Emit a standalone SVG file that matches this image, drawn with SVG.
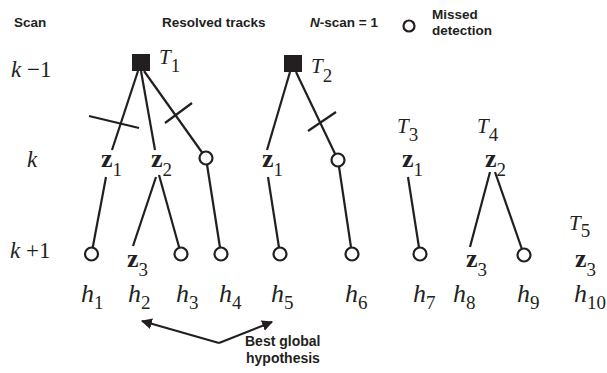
<svg xmlns="http://www.w3.org/2000/svg" width="607" height="373" viewBox="0 0 607 373">
<defs>
<style>
.hd{font-family:"Liberation Sans",Arial,sans-serif;font-weight:bold;font-size:13.5px;fill:#231f20}
.lb{font-family:"Liberation Sans",Arial,sans-serif;font-weight:bold;font-size:14px;fill:#231f20}
.rw{font-family:"Liberation Serif","Times New Roman",serif;font-size:23px;fill:#231f20}
.tl{font-family:"Liberation Serif","Times New Roman",serif;font-style:italic;font-size:21px;fill:#231f20}
.z{font-family:"Liberation Serif","Times New Roman",serif;font-weight:bold;font-size:26px;fill:#231f20}
.h{font-family:"Liberation Serif","Times New Roman",serif;font-style:italic;font-size:26px;fill:#231f20}
.sb{font-family:"Liberation Serif","Times New Roman",serif;font-style:normal;font-weight:normal;font-size:19px;fill:#231f20}
.ln{stroke:#231f20;stroke-width:2.2;fill:none;stroke-linecap:butt}
.md{fill:#fff;stroke:#231f20;stroke-width:2.2}
.sq{fill:#231f20}
</style>
<marker id="ah" viewBox="0 0 10 10" refX="9" refY="5" markerWidth="5" markerHeight="5" orient="auto" markerUnits="strokeWidth">
<path d="M0,0 L10,5 L0,10 z" fill="#231f20"/>
</marker>
</defs>
<rect width="607" height="373" fill="#fff"/>

<g id="header">
<text class="hd" x="14" y="27">Scan</text>
<text class="hd" x="162" y="27">Resolved tracks</text>
<text class="hd" x="310" y="27"><tspan font-style="italic">N</tspan>-scan = 1</text>
<circle class="md" cx="409" cy="26" r="5.5"/>
<text class="hd" x="432" y="19">Missed</text>
<text class="hd" x="432" y="35">detection</text>
</g>

<g id="rows">
<text class="rw" x="11" y="77"><tspan font-style="italic">k</tspan> −1</text>
<text class="rw" x="27" y="167" font-style="italic">k</text>
<text class="rw" x="10" y="258"><tspan font-style="italic">k</tspan> +1</text>
</g>

<g id="connectors">
<line class="ln" x1="138" y1="71" x2="112" y2="150"/>
<line class="ln" x1="141" y1="71" x2="155" y2="150"/>
<line class="ln" x1="144" y1="71" x2="206" y2="158"/>
<line class="ln" x1="89" y1="116" x2="139" y2="128"/>
<line class="ln" x1="165" y1="123" x2="192" y2="103"/>
<line class="ln" x1="290" y1="72" x2="267" y2="150"/>
<line class="ln" x1="296" y1="72" x2="338" y2="160"/>
<line class="ln" x1="308" y1="131" x2="336" y2="112"/>
<line class="ln" x1="106" y1="177" x2="91.5" y2="254"/>
<line class="ln" x1="156" y1="177" x2="133" y2="246"/>
<line class="ln" x1="159" y1="175" x2="181" y2="254"/>
<line class="ln" x1="206" y1="158" x2="221" y2="254"/>
<line class="ln" x1="268" y1="177" x2="280" y2="254"/>
<line class="ln" x1="338" y1="160" x2="352" y2="254"/>
<line class="ln" x1="408" y1="177" x2="420" y2="254"/>
<line class="ln" x1="490" y1="172" x2="470" y2="247"/>
<line class="ln" x1="495" y1="172" x2="524" y2="255"/>
<line class="ln" x1="219" y1="343" x2="142" y2="321" marker-end="url(#ah)"/>
<line class="ln" x1="219" y1="343" x2="272" y2="322" marker-end="url(#ah)"/>
</g>

<g id="T1">
<rect class="sq" x="132" y="54" width="18" height="17"/>
<text class="tl" x="159" y="64">T<tspan class="sb" dy="8">1</tspan></text>
</g>
<g id="T2">
<rect class="sq" x="284" y="55" width="18" height="17"/>
<text class="tl" x="311" y="73">T<tspan class="sb" dy="9">2</tspan></text>
</g>
<g id="T3"><text class="tl" x="397" y="133">T<tspan class="sb" dy="8">3</tspan></text></g>
<g id="T4"><text class="tl" x="477" y="133">T<tspan class="sb" dy="8">4</tspan></text></g>
<g id="T5"><text class="tl" x="569" y="230">T<tspan class="sb" dy="7">5</tspan></text></g>

<g id="T1-z1"><text class="z" x="101" y="167">z<tspan class="sb" dy="9">1</tspan></text></g>
<g id="T1-z2"><text class="z" x="151" y="167">z<tspan class="sb" dy="9">2</tspan></text></g>
<g id="T1-miss"><circle class="md" cx="206" cy="158" r="6.5"/></g>
<g id="T2-z1"><text class="z" x="262" y="167">z<tspan class="sb" dy="9">1</tspan></text></g>
<g id="T2-miss"><circle class="md" cx="338" cy="160" r="6.5"/></g>
<g id="T3-z1"><text class="z" x="402" y="167">z<tspan class="sb" dy="9">1</tspan></text></g>
<g id="T4-z2"><text class="z" x="485" y="167">z<tspan class="sb" dy="9">2</tspan></text></g>

<g id="h1"><circle class="md" cx="91.5" cy="254" r="6.5"/><text class="h" x="81" y="302">h<tspan class="sb" dy="7">1</tspan></text></g>
<g id="h2"><text class="z" x="127" y="267">z<tspan class="sb" dy="9">3</tspan></text><text class="h" x="128" y="302">h<tspan class="sb" dy="7">2</tspan></text></g>
<g id="h3"><circle class="md" cx="181" cy="254" r="6.5"/><text class="h" x="176" y="302">h<tspan class="sb" dy="7">3</tspan></text></g>
<g id="h4"><circle class="md" cx="221" cy="254" r="6.5"/><text class="h" x="219" y="302">h<tspan class="sb" dy="7">4</tspan></text></g>
<g id="h5"><circle class="md" cx="280" cy="254" r="6.5"/><text class="h" x="271" y="302">h<tspan class="sb" dy="7">5</tspan></text></g>
<g id="h6"><circle class="md" cx="352" cy="254" r="6.5"/><text class="h" x="345" y="302">h<tspan class="sb" dy="7">6</tspan></text></g>
<g id="h7"><circle class="md" cx="420" cy="254" r="6.5"/><text class="h" x="413" y="302">h<tspan class="sb" dy="7">7</tspan></text></g>
<g id="h8"><text class="z" x="466" y="267">z<tspan class="sb" dy="9">3</tspan></text><text class="h" x="453" y="302">h<tspan class="sb" dy="7">8</tspan></text></g>
<g id="h9"><circle class="md" cx="524" cy="255" r="6.5"/><text class="h" x="517" y="302">h<tspan class="sb" dy="7">9</tspan></text></g>
<g id="h10"><text class="z" x="575" y="267">z<tspan class="sb" dy="9">3</tspan></text><text class="h" x="574" y="302">h<tspan class="sb" dy="7">10</tspan></text></g>

<g id="label">
<text class="lb" x="245" y="346">Best global</text>
<text class="lb" x="246" y="363">hypothesis</text>
</g>
</svg>
